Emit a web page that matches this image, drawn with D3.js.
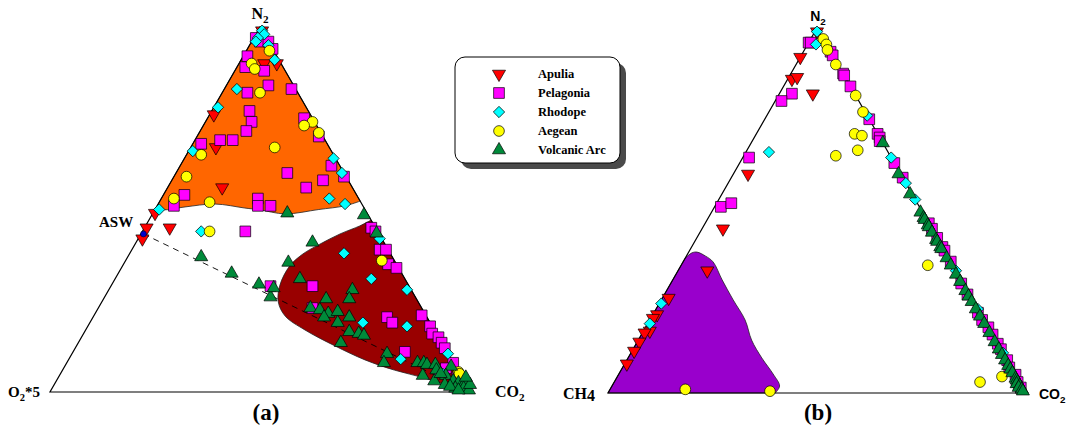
<!DOCTYPE html>
<html>
<head>
<meta charset="utf-8">
<script src="https://cdn.jsdelivr.net/npm/d3@7"></script>
<style>
  body { margin: 0; background: #fff; }
  .serif { font-family: "Liberation Serif", "DejaVu Serif", serif; font-weight: bold; }
  .sans { font-family: "Liberation Sans", Arial, sans-serif; font-weight: bold; }
</style>
</head>
<body>
<svg id="chart" width="1067" height="430"></svg>
<script>
// every point is [N2 %, CO2 %]; the third end-member is the rest
// (a) N2 - CO2 - O2*5
const aApulia = [[99,1],[90,9],[90,6],[76,1],[67,6],[56,13],[49,0.5],[45,0.5],[45,6],[42,1]];
const aPelagonia = [[97,0.5],[96,2],[96,4],[94,6],[92,1],[89,2],[88,7],[84,10],[82,6],[83,16],[77,9],[74,11],
  [71.5,11],[75,23],[70,29],[69,6],[69,9],[68,2],[62,36],[59,40.5],[60,26.5],[58,36],[56,33],[54,5],[51,4],
  [53,23],[51,24],[51,27],[44,24.5],[45,54],[44,55.5],[39,59],[39,60.5],[35,63],[34,65.5],[29,38],[29,48],
  [23,51],[20.5,70],[19,72],[21,78],[18,81.5],[16,83],[15,85],[13.5,86.5],[12,88],[11,79],[8,92],[5.5,90],
  [4,95],[2,98],[6.5,91],[3,96]];
const aRhodope = [[99,1],[98,2],[97,1],[96,1],[95,4.5],[91,8],[83,3],[78,1],[66,1],[64,35.5],[60,39.5],[53,40],
  [51.5,44.5],[50,1],[44,14],[38,51],[42,57.5],[31,61],[28,71],[19,65],[18,76],[10.5,89.5],[9,79],[5,91]];
const aAegean = [[93.5,5.5],[90,3],[88.5,4.5],[82,9],[74,25.5],[73,24],[71,28.5],[67,20],[65,3.5],[59,3],[53,3],
  [52,12],[44,16],[36,61],[5.5,94.5],[5,95]];
const aVolcanic = [[49,32],[48.5,50.5],[41,42],[37,17.5],[35.5,39],[32.5,27],[29.5,35],[26,39.5],[28.5,39],[31,44],
  [43.5,56],[28,58],[25.5,58.5],[25.5,53],[23,50.5],[22.5,53],[21.5,55.5],[22,57.5],[20.5,55],[19,59],[20.5,61],
  [16.5,63],[16,65.5],[15.5,67],[13.5,62.5],[10.5,75],[8,75.5],[8,83.5],[8,85],[7.5,86],[7.5,88],[7,92],[4.5,86.5],
  [3,90],[4.5,92],[3,94.5],[2.5,96],[2.5,97.5],[1,98],[0.5,99.5],[1,96],[2,93],[6,89],[5,90.5],[1.5,94.5],
  [0.5,97],[2,99],[4,97]];
const aswPoint = [43.3, 0.6];

// (b) N2 - CO2 - CH4
const bApulia = [[99,0.5],[92,0],[86,1],[86.5,2],[82,8],[60,3.5],[45,5],[33.5,7],[26,1.5],[21.5,1],[20.5,0.5],
  [17,1.5],[16.5,0.5],[14,0.5],[11.5,0.5],[8,0.5]];
const bPelagonia = [[96,0],[96,0.5],[93.5,6.5],[92.5,7.5],[87.5,12.5],[87,13],[84,16],[75,25],[71,29],[70,30],
  [69,30.5],[63,37],[59,41],[46.5,53.5],[45,55],[42.5,57.5],[40,60],[39,61],[36,64],[30,69.5],[27,72.5],
  [22,77.5],[20,79.5],[18,82],[16,84],[13.5,86.5],[12,88],[9,91],[7,92.5],[5,95],[3,96.5],[1.5,98],
  [82,3],[80,1.5],[64.5,1.5],[51,1.5],[52,3.5]];
const bRhodope = [[99,0.5],[95.5,2],[76,24],[64.5,35.5],[57.5,42.5],[53,47],[33.5,66.5],[23,77],[11,89],
  [66,5.5],[24.5,0.5],[19,0.5]];
const bAegean = [[97,3],[95.5,4.5],[94,5.5],[90,9.5],[81.5,18.5],[77,22.5],[71,23.5],[70.5,25.5],[66.5,26.5],
  [65,22],[35,59],[3,87.5],[4.5,92],[1,18],[0.5,38.5]];
const bVolcanic = [[68.5,31.5],[60,39.5],[54.5,45],[49.5,50],[48,51.5],[47.5,52],[46,53.5],[45.5,54],[44,55.5],
  [42,57.5],[41.5,58],[40,59.5],[39.5,60],[37,62.5],[35,64.5],[32.5,67],[30.5,69],[28,71.5],[26.5,73],[25,74.5],
  [23,76.5],[21,78.5],[19,80.5],[16.5,83],[14,85.5],[12,87.5],[10.5,89],[9,90.5],[7.5,92],[6.5,93],[5.5,94],
  [4,95.5],[3.5,96],[3,96.5],[2.5,96.5],[2,97.5],[1.5,97.5],[1,98.5],[0.5,99]];

// field outlines, [N2, CO2]
const orangeEdge = [[50.4,0],[100,0],[52.3,47.7]];
const orangeWave = [[52.3,47.7],[51,44.7],[50,39],[48.8,31.6],[49.9,25],[50.4,21.2],[51.5,13.5],[50.7,6.8],[49.9,2],[50.4,0]];
const redEdge = [[0,100],[47.1,52.9]];
const redCurve = [[47.1,52.9],[45.5,51],[43.3,47.4],[40.5,44],[37.8,41.3],[34.5,39.8],[29.3,40.1],[24.7,42],
  [20.8,45.6],[17,52.2],[12.6,61.6],[8.8,70.6],[6,79],[3.8,87.4],[1.4,95],[0,100]];
const purpleEdge = [[0,40],[0,0],[37,0]];
const purpleCurve = [[37,0],[38.4,0.9],[38.6,2],[37.5,4.6],[35.9,7.2],[31,11.8],[25.5,17.2],[20,22.8],
  [14.5,27.1],[9.6,32],[5.2,36.9],[1.9,40.1],[0,40]];

const groups = ["Apulia", "Pelagonia", "Rhodope", "Aegean", "Volcanic Arc"];
const colors = ["#ff0000", "#ff00ff", "#00ffff", "#ffff00", "#008a3a"];

const svg = d3.select("#chart");

const ternary = (x0, x1, y0, y1) => {
  const x = d3.scaleLinear().domain([0, 100]).range([x0, x1]);
  const y = d3.scaleLinear().domain([0, 100]).range([y0, y1]);
  return (d) => [x(d[1] + d[0] / 2), y(d[0])];
};
const projA = ternary(50, 470, 392, 27);
const projB = ternary(608, 1026, 393, 28);

const symbolPath = (i) => {
  const types = [d3.symbolTriangle, d3.symbolSquare, d3.symbolSquare, d3.symbolCircle, d3.symbolTriangle];
  const sizes = [74, 115, 64, 90, 74];
  return d3.symbol().type(types[i]).size(sizes[i])();
};
const symbolRot = [180, 0, 45, 0, 0];

const field = (proj, edge, curve, fill) => {
  const straight = d3.line()(edge.map(proj));
  const wavy = d3.line().curve(d3.curveCatmullRom)(curve.map(proj));
  svg.append("path")
    .attr("d", straight + wavy.replace(/^M/, "L") + "Z")
    .attr("fill", fill)
    .attr("stroke", "#222")
    .attr("stroke-width", 0.8);
};

const outline = (proj) => {
  svg.append("path")
    .attr("d", d3.line()([[0, 0], [0, 100], [100, 0]].map(proj)) + "Z")
    .attr("fill", "none")
    .attr("stroke", "#000")
    .attr("stroke-width", 1.2);
};

const drawPoints = (proj, sets) => {
  sets.forEach((data, i) => {
    svg.append("g").selectAll("path")
      .data(data)
      .enter().append("path")
        .attr("d", symbolPath(i))
        .attr("transform", d => {
          const p = proj(d);
          return "translate(" + p[0] + "," + p[1] + ") rotate(" + symbolRot[i] + ")";
        })
        .attr("fill", colors[i])
        .attr("stroke", "#000")
        .attr("stroke-width", 0.7);
  });
};

// ---- (a)
field(projA, orangeEdge, orangeWave, "#ff6600");
field(projA, redEdge, redCurve, "#990000");
outline(projA);

svg.append("path")
  .attr("d", d3.line()([aswPoint, [0, 100]].map(projA)))
  .attr("stroke", "#000")
  .attr("stroke-width", 0.9)
  .attr("stroke-dasharray", "6,5");

drawPoints(projA, [aApulia, aPelagonia, aRhodope, aAegean, aVolcanic]);

svg.append("circle")
  .attr("cx", projA(aswPoint)[0])
  .attr("cy", projA(aswPoint)[1])
  .attr("r", 3)
  .attr("fill", "#0000cc")
  .attr("stroke", "#000")
  .attr("stroke-width", 0.5);

// ---- (b)
field(projB, purpleEdge, purpleCurve, "#9900cc");
outline(projB);
drawPoints(projB, [bApulia, bPelagonia, bRhodope, bAegean, bVolcanic]);

// ---- labels
const label = (x, y, cls, size, parts, anchor) => {
  const t = svg.append("text")
    .attr("class", cls)
    .attr("x", x).attr("y", y)
    .attr("font-size", size)
    .attr("text-anchor", anchor || "start");
  parts.forEach(p => {
    t.append("tspan")
      .attr("font-size", p.sub ? size * 0.7 : size)
      .attr("dy", p.dy || 0)
      .text(p.t);
  });
};

label(260, 19, "serif", 16, [{t: "N"}, {t: "2", sub: true, dy: 4}, {t: "", dy: -4}], "middle");
label(99, 227, "serif", 15, [{t: "ASW"}]);
label(8, 397, "serif", 15, [{t: "O"}, {t: "2", sub: true, dy: 4}, {t: "*5", dy: -4}]);
label(495, 397, "serif", 16, [{t: "CO"}, {t: "2", sub: true, dy: 4}]);
label(266, 420, "serif", 23, [{t: "(a)"}], "middle");

label(818, 21, "sans", 14, [{t: "N"}, {t: "2", sub: true, dy: 4}, {t: "", dy: -4}], "middle");
label(563, 399, "serif", 16, [{t: "CH"}, {t: "4", dy: 2}]);
label(1039, 399, "sans", 14, [{t: "CO"}, {t: "2", sub: true, dy: 4}]);
label(818, 420, "serif", 23, [{t: "(b)"}], "middle");

// ---- legend
const legend = svg.append("g").attr("transform", "translate(455,57)");
legend.append("rect")
  .attr("x", 6).attr("y", 6)
  .attr("width", 165).attr("height", 106)
  .attr("rx", 10)
  .attr("fill", "#4a4a4a");
legend.append("rect")
  .attr("width", 165).attr("height", 106)
  .attr("rx", 10)
  .attr("fill", "#fff")
  .attr("stroke", "#000")
  .attr("stroke-width", 1);

const rows = legend.selectAll(".row")
  .data(groups)
  .enter().append("g")
    .attr("class", "row")
    .attr("transform", (d, i) => "translate(0," + (17 + i * 19) + ")");

rows.append("path")
  .attr("d", (d, i) => symbolPath(i))
  .attr("transform", (d, i) => "translate(44,0) rotate(" + symbolRot[i] + ")")
  .attr("fill", (d, i) => colors[i])
  .attr("stroke", "#000")
  .attr("stroke-width", 0.7);

rows.append("text")
  .attr("class", "serif")
  .attr("x", 83)
  .attr("dy", "0.35em")
  .attr("font-size", 12.5)
  .text(d => d);
</script>
</body>
</html>
